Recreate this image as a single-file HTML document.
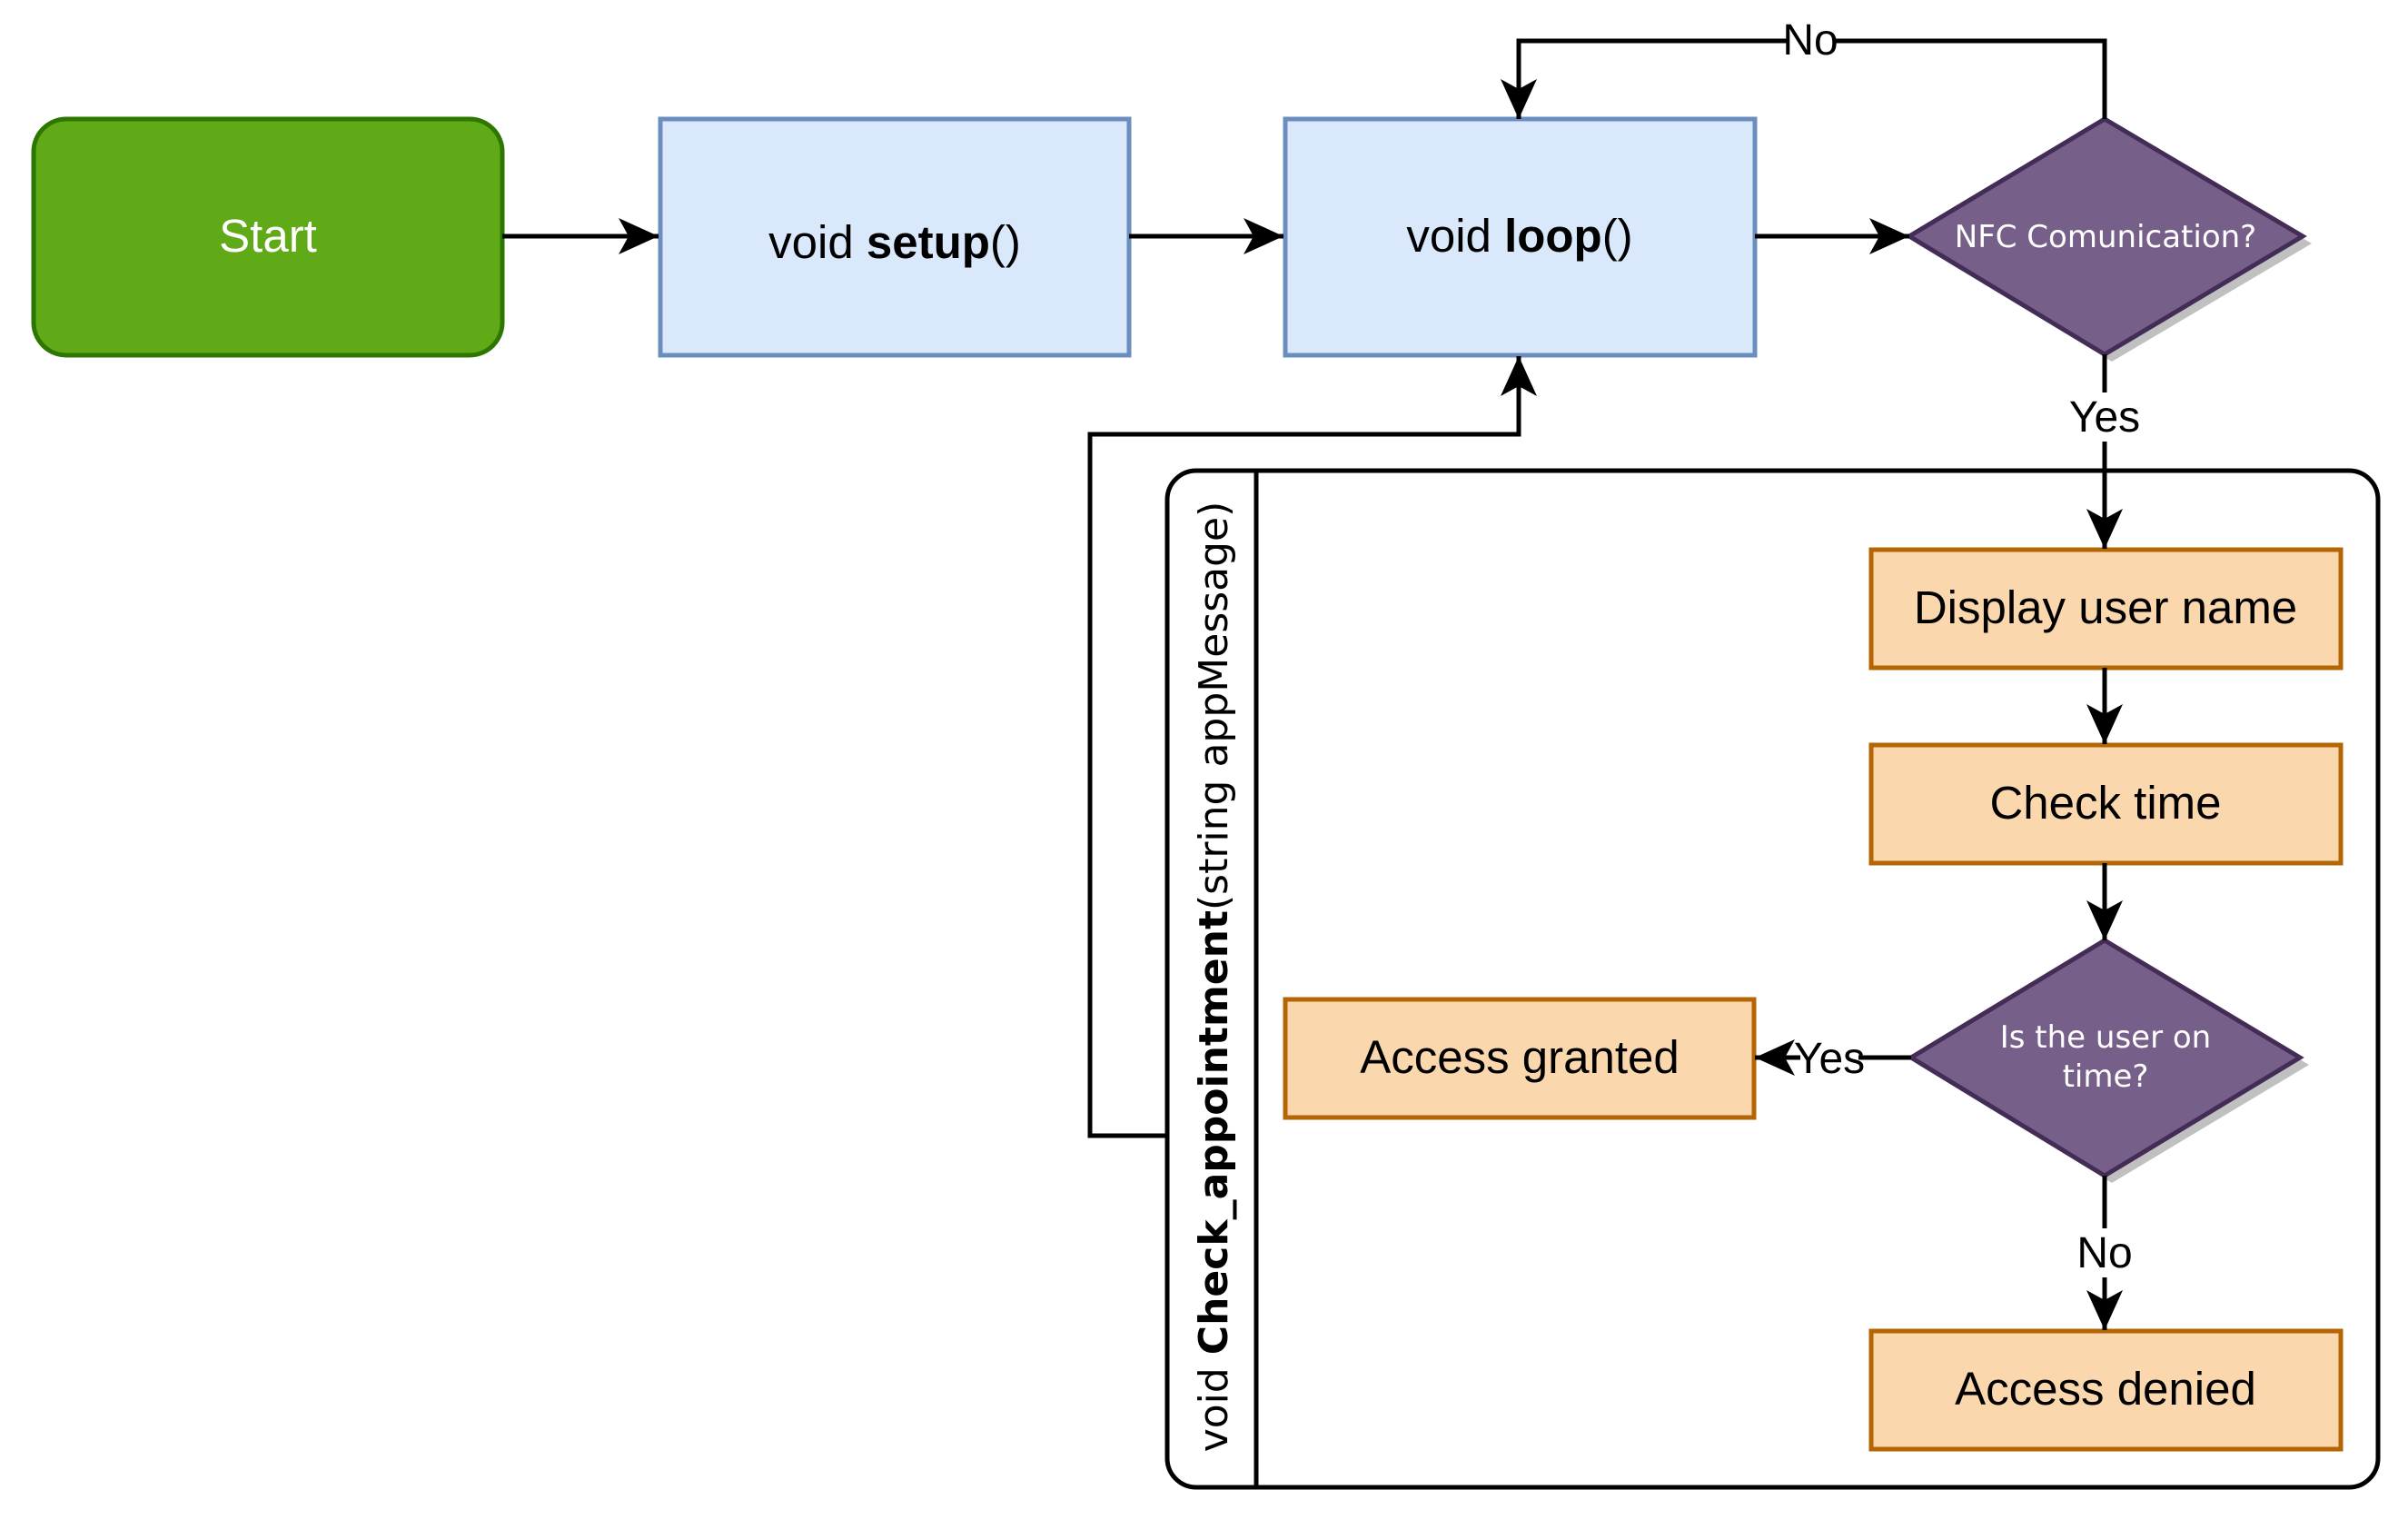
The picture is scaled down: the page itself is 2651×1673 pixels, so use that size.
<!DOCTYPE html>
<html><head><meta charset="utf-8"><style>html,body{margin:0;padding:0;background:#fff}svg{display:block}</style></head>
<body>
<svg width="2651" height="1673" viewBox="0 0 2651 1673" xmlns="http://www.w3.org/2000/svg">
<defs>
<marker id="a" markerUnits="userSpaceOnUse" markerWidth="60" markerHeight="50" viewBox="-50 -25 55 50" refX="0" refY="0" orient="auto">
<path d="M0,0 L-44,-20 L-33,0 L-44,20 Z" fill="#000"/>
</marker>
</defs>
<g font-family="Liberation Sans, Arial, sans-serif" font-size="51" text-anchor="middle">
<rect x="37" y="131" width="516" height="260" rx="36" fill="#60a917" stroke="#2d7600" stroke-width="5"/>
<text x="295" y="277" fill="#fff">Start</text>
<rect x="727" y="131" width="516" height="260" fill="#dae8fc" stroke="#6c8ebf" stroke-width="5"/>
<text x="985" y="284">void <tspan font-weight="bold">setup</tspan>()</text>
<rect x="1415" y="131" width="517" height="260" fill="#dae8fc" stroke="#6c8ebf" stroke-width="5"/>
<text x="1673" y="277">void <tspan font-weight="bold">loop</tspan>()</text>
<polygon points="2325,139 2545,268 2325,398 2110,268" fill="#c0c0c0"/>
<polygon points="2317,131 2535,260 2317,390 2102,260" fill="#76608a" stroke="#432d57" stroke-width="5"/>
<text x="2318" y="272" font-family="DejaVu Sans, sans-serif" font-size="34" fill="#fff">NFC Comunication?</text>
<rect x="1285" y="518" width="1333" height="1119" rx="32" fill="none" stroke="#000" stroke-width="5"/>
<line x1="1383" y1="518" x2="1383" y2="1637" stroke="#000" stroke-width="5"/>
<text transform="translate(1351,1075) rotate(-90)" font-family="DejaVu Sans, sans-serif" font-size="44">void <tspan font-weight="bold">Check_appointment</tspan>(string appMessage)</text>
<rect x="2060" y="605" width="517" height="130" fill="#fad7ac" stroke="#b46504" stroke-width="5"/>
<text x="2318" y="686">Display user name</text>
<rect x="2060" y="820" width="517" height="130" fill="#fad7ac" stroke="#b46504" stroke-width="5"/>
<text x="2318" y="901">Check time</text>
<rect x="1415" y="1100" width="516" height="130" fill="#fad7ac" stroke="#b46504" stroke-width="5"/>
<text x="1673" y="1181">Access granted</text>
<rect x="2060" y="1465" width="517" height="130" fill="#fad7ac" stroke="#b46504" stroke-width="5"/>
<text x="2318" y="1546">Access denied</text>
<polygon points="2325,1043 2542,1172 2325,1302 2112,1172" fill="#c0c0c0"/>
<polygon points="2317,1035 2532,1164 2317,1294 2104,1164" fill="#76608a" stroke="#432d57" stroke-width="5"/>
<text x="2318" y="1153" font-family="DejaVu Sans, sans-serif" font-size="34" fill="#fff">Is the user on</text>
<text x="2318" y="1196" font-family="DejaVu Sans, sans-serif" font-size="34" fill="#fff">time?</text>
</g>
<g stroke="#000" stroke-width="5" fill="none">
<line x1="553" y1="260" x2="725" y2="260" marker-end="url(#a)"/>
<line x1="1243" y1="260" x2="1413" y2="260" marker-end="url(#a)"/>
<line x1="1932" y1="260" x2="2102" y2="260" marker-end="url(#a)"/>
<polyline points="2317,131 2317,45 1672,45 1672,131" marker-end="url(#a)"/>
<line x1="2317" y1="390" x2="2317" y2="604" marker-end="url(#a)"/>
<line x1="2317" y1="735" x2="2317" y2="819" marker-end="url(#a)"/>
<line x1="2317" y1="950" x2="2317" y2="1035" marker-end="url(#a)"/>
<line x1="2104" y1="1164" x2="1932" y2="1164" marker-end="url(#a)"/>
<line x1="2317" y1="1294" x2="2317" y2="1464" marker-end="url(#a)"/>
<polyline points="1285,1250 1200,1250 1200,478 1672,478 1672,392" marker-end="url(#a)"/>
</g>
<g font-family="Liberation Sans, Arial, sans-serif" font-size="48" text-anchor="middle">
<rect x="1968" y="20" width="50" height="50" fill="#fff"/>
<text x="1993" y="60">No</text>
<rect x="2283" y="432" width="68" height="54" fill="#fff"/>
<text x="2317" y="475">Yes</text>
<rect x="1982" y="1140" width="64" height="50" fill="#fff"/>
<text x="2014" y="1181">Yes</text>
<rect x="2289" y="1352" width="56" height="54" fill="#fff"/>
<text x="2317" y="1395">No</text>
</g>
</svg>
</body></html>
